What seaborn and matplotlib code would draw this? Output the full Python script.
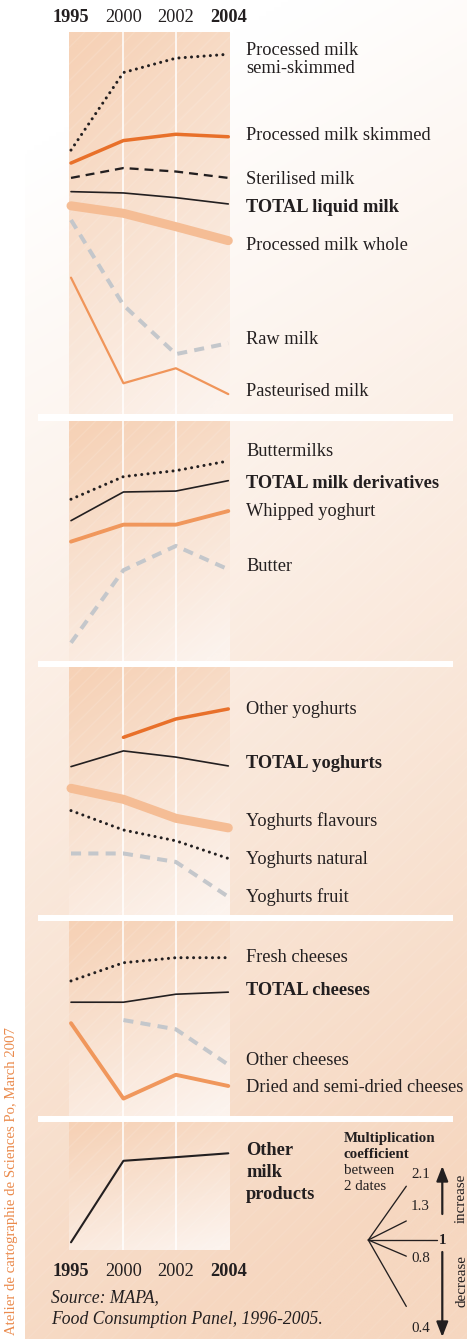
import numpy as np
import pandas as pd
import matplotlib
matplotlib.use("Agg")
import matplotlib.pyplot as plt
import matplotlib.transforms as mtransforms
from matplotlib.patches import Rectangle
import seaborn as sns

# ---------------------------------------------------------------- data
YEARS = ["1995", "2000", "2002", "2004"]
BOLD_YEARS = ["1995", "2004"]

# Consumption indices (log scale, panel floor = 1)
semi_skimmed = [14.0, 30.4, 35.1, 36.5]
skimmed = [12.3, 15.4, 16.4, 16.0]
sterilised = [10.6, 11.7, 11.3, 10.6]
total_liquid = [9.24, 9.12, 8.70, 8.17]
whole = [8.02, 7.44, 6.51, 5.66]
raw = [6.96, 2.97, 1.82, 2.03]
pasteurised = [3.91, 1.36, 1.58, 1.22]

buttermilks = [5.04, 6.32, 6.71, 7.39]
total_derivatives = [4.07, 5.42, 5.47, 6.07]
whipped = [3.30, 3.91, 3.91, 4.48]
butter = [1.20, 2.48, 3.16, 2.50]

other_yoghurts = [np.nan, 5.91, 7.10, 7.85]
total_yoghurts = [4.41, 5.16, 4.85, 4.44]
flavours = [3.55, 3.18, 2.63, 2.39]
natural = [2.84, 2.34, 2.10, 1.76]
fruit = [1.85, 1.85, 1.70, 1.20]

fresh_cheeses = [3.86, 4.63, 4.87, 4.87]
total_cheeses = [3.12, 3.12, 3.38, 3.45]
other_cheeses = [np.nan, 2.61, 2.38, 1.67]
dried_cheeses = [2.53, 1.19, 1.51, 1.35]

other_products = [1.08, 2.44, 2.53, 2.63]

COEFS = [2.1, 1.3, 1.0, 0.8, 0.4]
COEF_LABELS = ["2.1", "1.3", "1", "0.8", "0.4"]

# ---------------------------------------------------------------- styles
INK = "#231f20"
STYLES = {
    "dots": dict(color=INK, linewidth=2.2, linestyle=(0, (0.01, 2.05)),
                 dash_capstyle="round"),
    "dash": dict(color=INK, linewidth=1.65, linestyle=(0, (3.9, 2.6))),
    "total": dict(color=INK, linewidth=1.2, linestyle="-"),
    "orange": dict(color="#e8702a", linewidth=2.5, linestyle="-"),
    "wide": dict(color="#f5bd95", linewidth=6.5, linestyle="-"),
    "light": dict(color="#f0975c", linewidth=2.8, linestyle="-"),
    "thin_light": dict(color="#f0955a", linewidth=1.6, linestyle="-"),
    "grey": dict(color="#c4c7cb", linewidth=2.9, linestyle=(0, (2.5, 1.8))),
    "product": dict(color=INK, linewidth=1.5, linestyle="-"),
}

W, H = 467, 1339
PX_PER_LN = 100.0          # vertical pixels per natural-log unit
X0, X1 = 71.0, 228.3       # pixel span of the four dates
STRIP_L, STRIP_R = 69, 230
LABEL_X = 246

# (top px, bottom px, series list) ; series: (label lines, values, style, baselines, bold)
PANELS = [
    (32, 414, [
        (["Processed milk", "semi-skimmed"], semi_skimmed, "dots", [55, 73], False),
        (["Processed milk skimmed"], skimmed, "orange", [139.5], False),
        (["Sterilised milk"], sterilised, "dash", [183.5], False),
        (["TOTAL liquid milk"], total_liquid, "total", [212.5], True),
        (["Processed milk whole"], whole, "wide", [250.5], False),
        (["Raw milk"], raw, "grey", [344], False),
        (["Pasteurised milk"], pasteurised, "thin_light", [396.5], False),
    ]),
    (421, 661, [
        (["Buttermilks"], buttermilks, "dots", [456.5], False),
        (["TOTAL milk derivatives"], total_derivatives, "total", [488.5], True),
        (["Whipped yoghurt"], whipped, "light", [516.5], False),
        (["Butter"], butter, "grey", [571], False),
    ]),
    (667, 915, [
        (["Other yoghurts"], other_yoghurts, "orange", [713.5], False),
        (["TOTAL yoghurts"], total_yoghurts, "total", [768.5], True),
        (["Yoghurts flavours"], flavours, "wide", [826.5], False),
        (["Yoghurts natural"], natural, "dots", [864.5], False),
        (["Yoghurts fruit"], fruit, "grey", [902.5], False),
    ]),
    (921, 1116, [
        (["Fresh cheeses"], fresh_cheeses, "dots", [961.5], False),
        (["TOTAL cheeses"], total_cheeses, "total", [995], True),
        (["Other cheeses"], other_cheeses, "grey", [1065], False),
        (["Dried and semi-dried cheeses"], dried_cheeses, "light", [1092.5], False),
    ]),
    (1122, 1250, [
        (["Other", "milk", "products"], other_products, "product", [1155, 1177, 1199], True),
    ]),
]

sns.set_style("white")
plt.rcParams["font.family"] = ["Liberation Serif", "DejaVu Serif"]
FS = 13.2

fig = plt.figure(figsize=(W / 100, H / 100), dpi=100)
fig.patch.set_facecolor("white")


def fig_rect(x0, y0, x1, y1):
    return [x0 / W, 1 - y1 / H, (x1 - x0) / W, (y1 - y0) / H]


def lerp(c0, c1, t):
    c0 = np.array(c0, float) / 255
    c1 = np.array(c1, float) / 255
    return c0[None, None, :] * (1 - t[..., None]) + c1[None, None, :] * t[..., None]


# ---------------------------------------------------------------- backdrop
bg = fig.add_axes([0, 0, 1, 1], zorder=0)
bg.set_xlim(0, W)
bg.set_ylim(H, 0)
bg.axis("off")

gy, gx = np.mgrid[0:1:300j, 0:1:120j]
t = np.clip(1.05 * gy + 0.2 * gx - 0.12, 0, 1)
bg.imshow(lerp((255, 255, 255), (246, 215, 192), t), extent=[25, W, H, 0],
          aspect="auto", interpolation="bilinear", zorder=0)
bg.add_patch(Rectangle((25, 0), W - 25, H, facecolor="none", edgecolor="white",
                       hatch="//", linewidth=0, alpha=0.08, zorder=0.5))

for top, bottom, _ in PANELS:
    sy, sx = np.mgrid[0:1:100j, 0:1:60j]
    ts = np.clip(0.8 * (1 - sy) + 0.3 * (1 - sx) - 0.05, 0, 1)
    bg.imshow(lerp((252, 243, 237), (246, 210, 183), ts),
              extent=[STRIP_L, STRIP_R, bottom, top], aspect="auto",
              interpolation="bilinear", zorder=1)
    bg.add_patch(Rectangle((STRIP_L, top), STRIP_R - STRIP_L, bottom - top,
                           facecolor="none", edgecolor="white", hatch="//",
                           linewidth=0, alpha=0.12, zorder=1.5))

# white separators between the product groups
for (_, b0, _), (t1, _, _) in zip(PANELS[:-1], PANELS[1:]):
    bg.add_patch(Rectangle((38, b0), 453 - 38, t1 - b0, facecolor="white",
                           edgecolor="none", zorder=2))

bg.set_xlim(0, W)
bg.set_ylim(H, 0)

# ---------------------------------------------------------------- panels
pos = np.arange(len(YEARS))
axes = []
for top, bottom, series in PANELS:
    ax = fig.add_axes(fig_rect(X0, top, X1, bottom), zorder=2)
    ax.patch.set_alpha(0)
    ax.set_yscale("log")
    ax.set_xlim(0, len(YEARS) - 1)
    ax.set_ylim(1, np.exp((bottom - top) / PX_PER_LN))
    for xv in pos[1:-1]:
        ax.axvline(xv, color="white", linewidth=1.1, zorder=0)
    for lines, values, style, baselines, bold in series:
        df = pd.DataFrame({"x": pos, "y": values}).dropna()
        sns.lineplot(data=df, x="x", y="y", ax=ax, errorbar=None, legend=False,
                     clip_on=False, **STYLES[style])
        for txt, yb in zip(lines, baselines):
            bg.text(LABEL_X, yb, txt, fontsize=FS, color=INK, va="baseline",
                    ha="left", fontweight="bold" if bold else "normal", zorder=5)
    ax.axis("off")
    axes.append(ax)

# year labels above the first and below the last panel
for ax, yb in ((axes[0], 21.7), (axes[-1], 1275.7)):
    tr = mtransforms.blended_transform_factory(ax.transData, bg.transData)
    for xv, yr in zip(pos, YEARS):
        bg.text(xv, yb, yr, transform=tr, fontsize=FS, color=INK, ha="center",
                va="baseline", fontweight="bold" if yr in BOLD_YEARS else "normal")

# source
FS_SRC = 12.7
bg.text(51, 1302.5, "Source: MAPA,", fontsize=FS_SRC, style="italic", color=INK,
        va="baseline")
bg.text(51, 1324, "Food Consumption Panel, 1996-2005.", fontsize=FS_SRC,
        style="italic", color=INK, va="baseline")

# credit
bg.text(12, 1335, "Atelier de cartographie de Sciences Po, March 2007",
        rotation=90, fontsize=10.6, color="#ea8a4c", ha="center", va="bottom")

# ---------------------------------------------------------------- key
FS_K = 10.8
bg.text(344, 1142, "Multiplication", fontsize=FS_K, fontweight="bold", color=INK,
        va="baseline")
bg.text(344, 1158, "coefficient", fontsize=FS_K, fontweight="bold", color=INK,
        va="baseline")
bg.text(344, 1174, "between", fontsize=FS_K, color=INK, va="baseline")
bg.text(344, 1190, "2 dates", fontsize=FS_K, color=INK, va="baseline")

step_px = (X1 - X0) / (len(YEARS) - 1)
PIV_X, PIV_Y, KEY_DX = 368.3, 1240.0, 38.0
k_key = PX_PER_LN * KEY_DX / step_px
key_top, key_bot = 1160, 1340
kax = fig.add_axes(fig_rect(PIV_X, key_top, PIV_X + KEY_DX, key_bot), zorder=2)
kax.patch.set_alpha(0)
kax.set_yscale("log")
kax.set_xlim(0, 1)
kax.set_ylim(np.exp(-(key_bot - PIV_Y) / k_key), np.exp((PIV_Y - key_top) / k_key))
kax.axis("off")
for c in COEFS:
    reach = 1.0 if c != 1.0 else (437 - PIV_X) / KEY_DX
    sns.lineplot(x=[0, reach], y=[1.0, c], ax=kax, color=INK, linewidth=0.95,
                 errorbar=None, legend=False, clip_on=False)

key_label_pos = {"2.1": (411, 1177.5), "1.3": (411, 1210), "1": (439, 1244),
                 "0.8": (411, 1261.5), "0.4": (411, 1332)}
for lab in COEF_LABELS:
    x, y = key_label_pos[lab]
    bg.text(x, y, lab, fontsize=FS_K, color=INK, va="baseline",
            fontweight="bold" if lab == "1" else "normal")

arrow = dict(arrowstyle="-|>,head_length=0.9,head_width=0.35", color=INK,
             lw=1.6, shrinkA=0, shrinkB=0)
bg.annotate("", xy=(442.3, 1166), xytext=(442.3, 1214), arrowprops=arrow)
bg.annotate("", xy=(442.3, 1337), xytext=(442.3, 1252), arrowprops=arrow)
bg.text(461.5, 1198, "increase", rotation=90, fontsize=FS_K, color=INK,
        ha="center", va="center")
bg.text(461.5, 1281, "decrease", rotation=90, fontsize=FS_K, color=INK,
        ha="center", va="center")

fig.savefig("out.png", dpi=100, facecolor=fig.get_facecolor())
